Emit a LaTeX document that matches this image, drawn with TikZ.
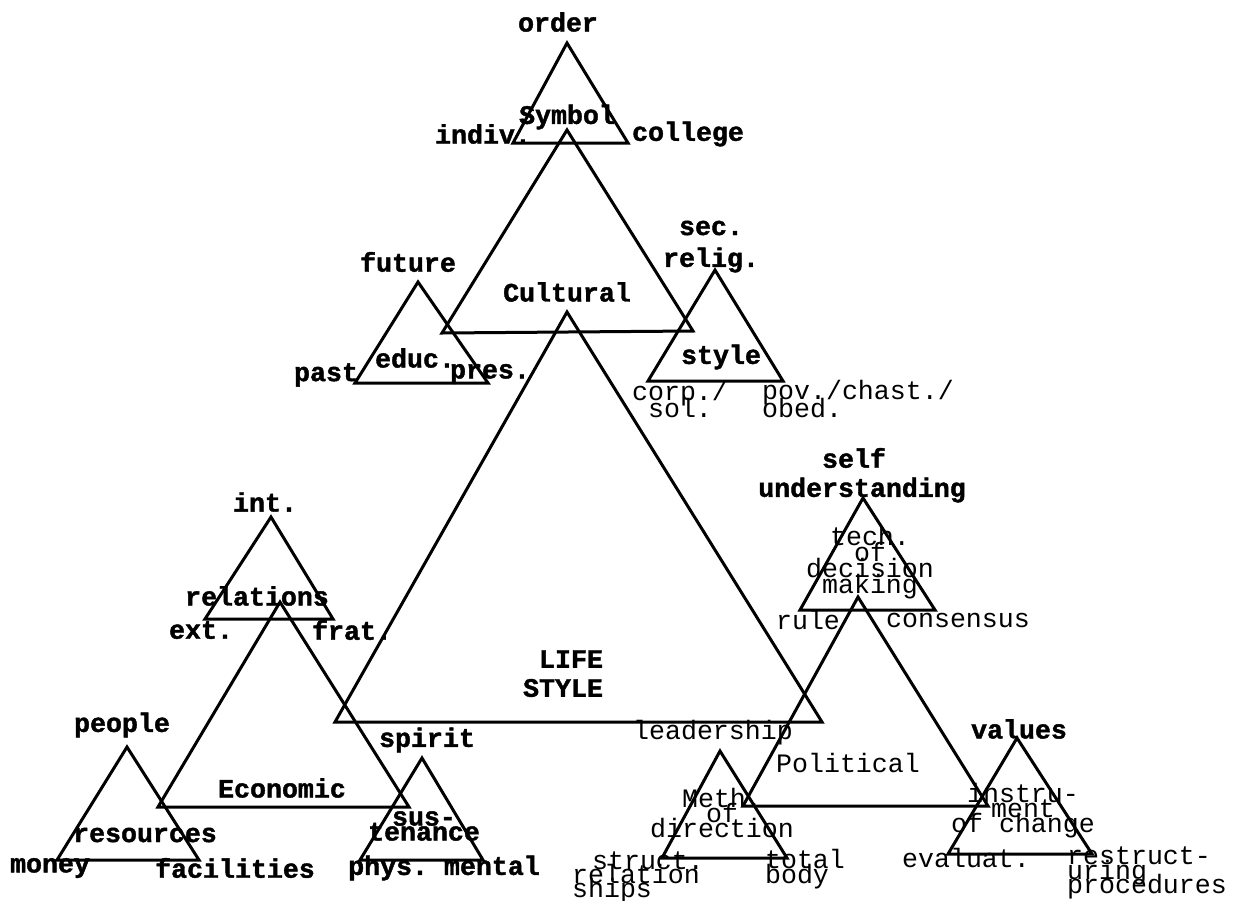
\documentclass[tikz,border=0pt]{standalone}
\usepackage{fontspec}
\setmonofont{Liberation Mono}[BoldFeatures={FakeBold=1.5}]
\newcommand{\typefont}{\fontsize{13.3}{14}\selectfont\ttfamily\bfseries}
\newcommand{\lightfont}{\fontsize{13.3}{14}\selectfont\ttfamily\mdseries}
\tikzset{every picture/.style={line width=0.75pt}}
\tikzset{typed/.style={font=\typefont, inner sep=0pt},
         faint/.style={font=\lightfont, inner sep=0pt},
         stack/.style={faint, align=center,
           font={\fontsize{13.3}{#1}\selectfont\ttfamily\mdseries\lineskiplimit=-30pt\relax}},
         tri/.style={line width=1.5, line join=miter}}

\begin{document}
\begin{tikzpicture}[x=0.5pt,y=0.5pt,yscale=-1,xscale=1]
\useasboundingbox (0,0) rectangle (1241,900); %set diagram 1241 wide, 900 high

%Shape: Triangle [Symbol]
\draw [tri] (567,43) -- (513,143) -- (628,143) -- cycle ;
%Shape: Triangle [Cultural]
\draw [tri] (567,130) -- (442,333) -- (693,331) -- cycle ;
%Shape: Triangle [educ]
\draw [tri] (418,282) -- (355,383) -- (488,383) -- cycle ;
%Shape: Triangle [style]
\draw [tri] (715,270) -- (648,381) -- (783,381) -- cycle ;
%Shape: Triangle [LIFE STYLE]
\draw [tri] (567,312) -- (335,722) -- (822,722) -- cycle ;
%Shape: Triangle [relations]
\draw [tri] (271,517) -- (205,619) -- (333,619) -- cycle ;
%Shape: Triangle [Economic]
\draw [tri] (280,602) -- (158,807) -- (409,807) -- cycle ;
%Shape: Triangle [resources]
\draw [tri] (127,747) -- (57,860) -- (199,860) -- cycle ;
%Shape: Triangle [sustenance]
\draw [tri] (422,758) -- (360,860) -- (483,860) -- cycle ;
%Shape: Triangle [Political]
\draw [tri] (858,597) -- (743,806) -- (988,806) -- cycle ;
%Shape: Triangle [decision making]
\draw [tri] (863,498) -- (800,610) -- (935,610) -- cycle ;
%Shape: Triangle [direction]
\draw [tri] (720,751) -- (662,858) -- (787,858) -- cycle ;
%Shape: Triangle [change]
\draw [tri] (1017,738) -- (948,854) -- (1092,854) -- cycle ;

% Text Node
\draw (558,22) node [typed] (order) {order};
% Text Node
\draw (567,117) node [typed] (symbol) {Symbol};
% Text Node
\draw (483,134) node [typed] (indiv) {indiv.};
% Text Node
\draw (688,134) node [typed] (college) {college};
% Text Node
\draw (711,228) node [typed] (sec) {sec.};
% Text Node
\draw (711,260) node [typed] (relig) {relig.};
% Text Node
\draw (408,262) node [typed] (future) {future};
% Text Node
\draw (567,292) node [typed] (cultural) {Cultural};
% Text Node
\draw (415,358) node [typed] (educ) {educ.};
% Text Node
\draw (326,375) node [typed] (past) {past};
% Text Node
\draw (490,374) node [typed] (pres) {pres.};
% Text Node
\draw (721,357) node [typed] (style) {style};
% Text Node
\draw (680,399) node [stack=8.5pt] (corp) {corp./\\sol.};
% Text Node
\draw (858,399) node [stack=9pt, align=left] (pov) {pov./chast./\\obed.};

% Text Node
\draw (571,659) node [typed] (life) {LIFE};
% Text Node
\draw (563,688) node [typed] (lstyle) {STYLE};

% Text Node
\draw (265,502) node [typed] (int) {int.};
% Text Node
\draw (257,596) node [typed] (relations) {relations};
% Text Node
\draw (201,630) node [typed] (ext) {ext.};
% Text Node
\draw (352,630) node [typed] (frat) {frat.};
% Text Node
\draw (282,788) node [typed] (economic) {Economic};
% Text Node
\draw (122,725) node [typed] (people) {people};
% Text Node
\draw (145,835) node [typed] (resources) {resources};
% Text Node
\draw (50,868) node [typed] (money) {money};
% Text Node
\draw (235,868) node [typed] (facilities) {facilities};
% Text Node
\draw (427,740) node [typed] (spirit) {spirit};
% Text Node
\draw (424,826) node [stack=7.5pt, font={\fontsize{13.3}{7.5}\selectfont\ttfamily\bfseries\lineskiplimit=-30pt\relax}] (sus) {sus-\\tenance};
% Text Node
\draw (444,868) node [typed] (physmental) {phys. mental};

% Text Node
\draw (713,733) node [faint] (leadership) {leadership};
% Text Node
\draw (848,763) node [faint] (political) {Political};
% Text Node
\draw (722,813) node [stack=7.5pt] (meth) {Meth.\\of\\direction};
% Text Node
\draw (638,877) node [stack=7pt, align=left] (struct) {\hspace*{10pt}struct.\\relation\\ships};
% Text Node
\draw (805,869) node [stack=7.5pt, align=left] (total) {total\\body};

% Text Node
\draw (854,458) node [typed] (self) {self};
% Text Node
\draw (862,490) node [typed] (understanding) {understanding};
% Text Node
\draw (870,563) node [stack=8pt] (tech) {tech.\\of\\decision\\making};
% Text Node
\draw (808,620) node [faint] (rule) {rule};
% Text Node
\draw (958,620) node [faint] (consensus) {consensus};

% Text Node
\draw (1019,729) node [typed] (values) {values};
% Text Node
\draw (1023,811) node [stack=7.5pt] (instru) {instru-\\ment\\of change};
% Text Node
\draw (966,858) node [faint] (evaluat) {evaluat.};
% Text Node
\draw (1147,873) node [stack=7.25pt, align=left] (restruct) {restruct-\\uring\\procedures};

\end{tikzpicture}
\end{document}
